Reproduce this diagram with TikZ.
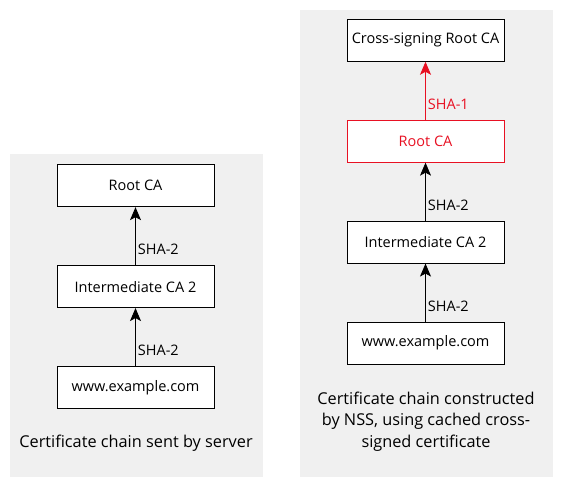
\documentclass[tikz,border=0pt]{standalone}
\usepackage{fontspec}
\setmainfont{Open Sans}
\usepackage{xcolor}
\usepackage{tikz}
\usetikzlibrary{arrows.meta,positioning}
\definecolor{panelgray}{RGB}{240,240,240}
\definecolor{weak}{RGB}{232,17,35}

\begin{document}
\begin{tikzpicture}[
    x=1pt, y=-1pt,
    node distance=58pt,
    panel/.style={fill=panelgray, inner sep=0pt, minimum width=253pt},
    cert/.style={draw, fill=white, line width=0.9pt, minimum width=157pt, minimum height=42pt, font=\fontsize{14.5}{17}\selectfont},
    arrow/.style={-{Stealth[length=13pt, width=11pt, inset=3pt]}, line width=0.9pt},
    hash/.style={font=\fontsize{14.5}{17}\selectfont, right, inner sep=2pt},
    caption/.style={font=\fontsize{16.3}{21.5}\selectfont, align=center}
]
    \useasboundingbox (0,0) rectangle (561,487);

    % Panels
    \node[panel, minimum height=323pt] (left) at (136.5,315.5) {};
    \node[panel, minimum height=467pt] (right) at (426,243.5) {};

    % Chain sent by server
    \node[cert] (site) at (135.5,387.5) {www.example.com};
    \node[cert, above=of site] (inter) {Intermediate CA 2};
    \node[cert, above=of inter] (root) {Root CA};

    % Chain built by NSS
    \node[cert] (site2) at (425.5,343) {www.example.com};
    \node[cert, above=of site2] (inter2) {Intermediate CA 2};
    \node[cert, draw=weak, text=weak, above=of inter2] (root2) {Root CA};
    \node[cert, above=of root2] (cross) {Cross-signing Root CA};

    % Connections
    \draw[arrow] (site) -- node[hash, pos=0.27] {SHA-2} (inter);
    \draw[arrow] (inter) -- node[hash, pos=0.27] {SHA-2} (root);
    \draw[arrow] (site2) -- node[hash, pos=0.27] {SHA-2} (inter2);
    \draw[arrow] (inter2) -- node[hash, pos=0.27] {SHA-2} (root2);
    \draw[arrow, draw=weak, fill=weak] (root2) -- node[hash, text=weak, pos=0.27] {SHA-1} (cross);

    % Captions
    \node[caption] (leftcap) at (136,443) {Certificate chain sent by server};
    \node[caption] (rightcap) at (426,421.5) {Certificate chain constructed\\by NSS, using cached cross-\\signed certificate};
\end{tikzpicture}
\end{document}
